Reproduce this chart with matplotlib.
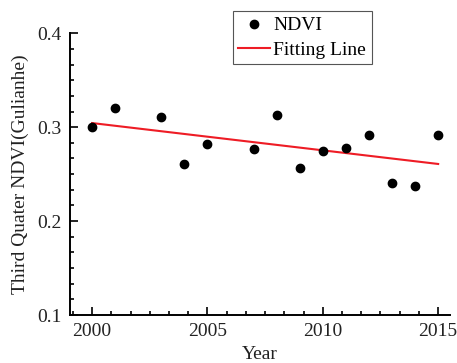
import numpy as np
import matplotlib.pyplot as plt
from matplotlib.ticker import MultipleLocator

plt.rcParams['font.family'] = ['Liberation Serif', 'DejaVu Serif']
plt.rcParams['mathtext.fontset'] = 'stix'

# yearly third-quarter NDVI, Gulianhe basin
years = [2000, 2001, 2003, 2004, 2005, 2007, 2008, 2009, 2010, 2011, 2012, 2013, 2014, 2015]
ndvi = [0.300, 0.3205, 0.311, 0.261, 0.282, 0.277, 0.3128, 0.2567, 0.2751, 0.278,
        0.2915, 0.2411, 0.2379, 0.2918]

# linear trend
k, b = np.polyfit(years, ndvi, 1)
fit_x = np.array([years[0], years[-1]])
fit_y = k * fit_x + b

fig = plt.figure(figsize=(4.57, 3.63), dpi=100)
ax = fig.add_axes([0.1525, 0.1322, 0.8315, 0.7761])

ax.scatter(years, ndvi, s=36, color='black', zorder=3, label='NDVI')
ax.plot(fit_x, fit_y, color='#ee1c25', lw=1.5, zorder=2, label='Fitting Line')

ax.set_xlim(1999.03, 2015.5)
ax.set_ylim(0.1, 0.4)
ax.xaxis.set_major_locator(MultipleLocator(5))
ax.xaxis.set_minor_locator(MultipleLocator(5 / 6))
ax.yaxis.set_major_locator(MultipleLocator(0.1))
ax.yaxis.set_minor_locator(MultipleLocator(0.1 / 6))
ax.yaxis.set_major_formatter(plt.FormatStrFormatter('%.1f'))

for side in ('top', 'right'):
    ax.spines[side].set_visible(False)
for side in ('left', 'bottom'):
    ax.spines[side].set_linewidth(1.4)
ax.tick_params(which='both', direction='in', width=1.2, labelsize=14,
               labelcolor='#222222')
ax.tick_params(which='major', length=5.5, pad=6)
ax.tick_params(which='minor', length=3)

ax.set_xlabel('Year', fontsize=14, labelpad=4, color='#222222')
ax.set_ylabel('Third Quater NDVI(Gulianhe)', fontsize=14, labelpad=6,
              color='#222222')

leg = ax.legend(loc='upper left', bbox_to_anchor=(233 / 457, 1 - 10.5 / 363),
                bbox_transform=fig.transFigure, fontsize=14, fancybox=False,
                edgecolor='#555555', framealpha=1, handlelength=1.6,
                borderpad=0.28, labelspacing=0.4, handletextpad=0.2,
                borderaxespad=0)
leg.get_frame().set_linewidth(0.8)

fig.savefig('out.png', dpi=100, facecolor='white')
